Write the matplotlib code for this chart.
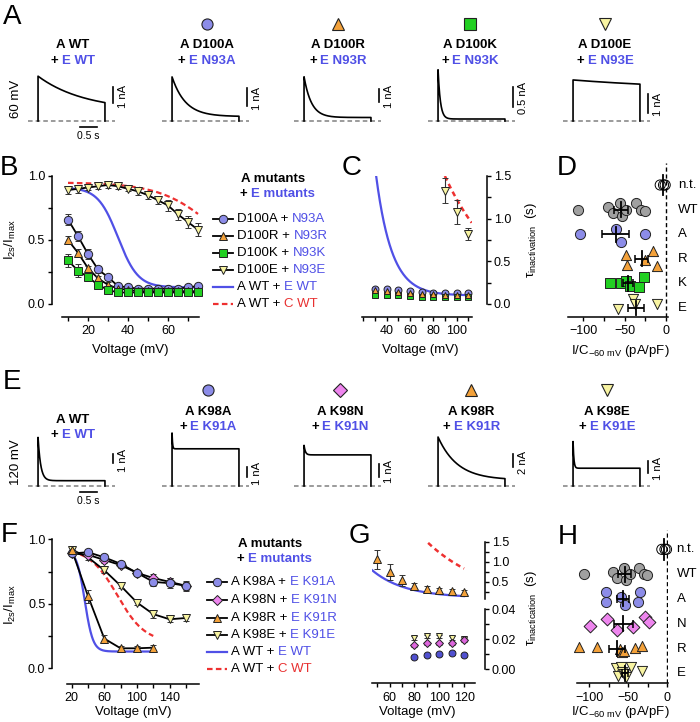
import numpy as np
import matplotlib
matplotlib.use('Agg')
import matplotlib.pyplot as plt
from matplotlib.offsetbox import TextArea, HPacker, AnnotationBbox

plt.rcParams['font.family'] = ['Liberation Sans', 'DejaVu Sans']
plt.rcParams['mathtext.fontset'] = 'custom'
plt.rcParams['mathtext.rm'] = 'Liberation Sans'
plt.rcParams['mathtext.it'] = 'Liberation Sans:italic'
plt.rcParams['font.size'] = 9

## ---------------- data ----------------
PULSE = 2.0  # s

# Panel A traces (60 mV)
a_names = ['A WT', 'A D100A', 'A D100R', 'A D100K', 'A D100E']
a_partners = ['E WT', 'E N93A', 'E N93R', 'E N93K', 'E N93E']
a_peak = [2.8, 2.45, 3.4, 1.28, 2.16]      # nA
a_steady = [0.63, 0.25, 0.27, 0.05, 1.6]   # nA
a_tau = [1.4, 0.4, 0.22, 0.07, 4.0]        # s
a_scale = [1, 1, 1, 0.5, 1]                # nA scale bar
a_scale_lbl = ['1 nA', '1 nA', '1 nA', '0.5 nA', '1 nA']

# Panel E traces (120 mV)
e_names = ['A WT', 'A K98A', 'A K98N', 'A K98R', 'A K98E']
e_partners = ['E WT', 'E K91A', 'E K91N', 'E K91R', 'E K91E']
e_peak = [5.4, 5.7, 3.2, 7.9, 3.5]
e_steady = [0.59, 4.0, 2.45, 0.97, 1.4]
e_tau = [0.08, 0.015, 0.04, 0.58, 0.025]
e_scale = [1, 1, 1, 2, 1]
e_scale_lbl = ['1 nA', '1 nA', '1 nA', '2 nA', '1 nA']

# Panel B  I2s/Imax
b_volt = [10, 15, 20, 25, 30, 35, 40, 45, 50, 55, 60, 65, 70, 75]
b_d100a = [0.66, 0.53, 0.39, 0.27, 0.21, 0.14, 0.13, 0.12, 0.12, 0.12, 0.12, 0.12, 0.13, 0.14]
b_d100a_err = [0.04, 0.04, 0.04, 0.03, 0.02, 0.02, 0.01, 0.01, 0.01, 0.01, 0.01, 0.01, 0.01, 0.01]
b_d100r = [0.50, 0.40, 0.28, 0.20, 0.15, 0.12, 0.11, 0.10, 0.10, 0.10, 0.10, 0.10, 0.10, 0.10]
b_d100r_err = [0.03, 0.03, 0.02, 0.02, 0.02, 0.01, 0.01, 0.01, 0.01, 0.01, 0.01, 0.01, 0.01, 0.01]
b_d100k = [0.34, 0.26, 0.21, 0.15, 0.11, 0.09, 0.09, 0.09, 0.09, 0.09, 0.09, 0.09, 0.09, 0.09]
b_d100k_err = [0.05, 0.05, 0.03, 0.02, 0.02, 0.01, 0.01, 0.01, 0.01, 0.01, 0.01, 0.01, 0.01, 0.01]
b_d100e = [0.89, 0.90, 0.91, 0.92, 0.93, 0.92, 0.90, 0.88, 0.85, 0.81, 0.77, 0.70, 0.64, 0.58]
b_d100e_err = [0.03, 0.03, 0.02, 0.02, 0.02, 0.02, 0.02, 0.03, 0.03, 0.03, 0.04, 0.04, 0.05, 0.05]
# Boltzmann fits: top, bottom, V1/2, slope ; fitted range
b_ewt_fit = (0.91, 0.13, 35.0, 5.0)
b_cwt_fit = (0.95, 0.20, 85.0, 14.0)
b_fit_range = (10, 75)

# Panel C  tau inactivation
c_volt = [30, 40, 50, 60, 70, 80, 90, 100, 110]
c_d100a = [0.18, 0.17, 0.16, 0.15, 0.14, 0.13, 0.13, 0.13, 0.13]
c_d100r = [0.16, 0.15, 0.14, 0.13, 0.12, 0.12, 0.11, 0.11, 0.11]
c_d100k = [0.11, 0.10, 0.10, 0.09, 0.08, 0.08, 0.08, 0.08, 0.08]
c_small_err = [0.02, 0.02, 0.02, 0.02, 0.02, 0.02, 0.02, 0.02, 0.02]
c_d100e_volt = [90, 100, 110]
c_d100e = [1.33, 1.08, 0.82]
c_d100e_err = [0.15, 0.14, 0.07]
# tau = offset + amp * exp(-(V - V0)/k)
c_ewt_fit = (0.1, 1.4, 31.0, 13.5)
c_ewt_range = (31, 113)
cwt_tau_fit = (0.0, 1.5, 90.0, 50.6)
c_cwt_range = (90, 113)

# Panel D  I/C at -60 mV (pA/pF)
row_names_d = ['n.t.', 'WT', 'A', 'R', 'K', 'E']
d_nt = [-7, -3, -1]
d_wt = [-107, -70, -64, -56, -53, -48, -36, -30, -26]
d_a = [-104, -60, -54, -25]
d_r = [-48, -47, -25, -16, -11]
d_k = [-68, -54, -48, -44, -33, -27]
d_e = [-58, -40, -37, -11]

# Panel F
f_volt = [20, 40, 60, 80, 100, 120, 140, 160]
f_k98a = [0.89, 0.90, 0.86, 0.81, 0.74, 0.67, 0.66, 0.64]
f_k98a_err = [0.02, 0.02, 0.02, 0.02, 0.02, 0.03, 0.04, 0.04]
f_k98n = [0.89, 0.88, 0.84, 0.80, 0.74, 0.70, 0.67, 0.64]
f_k98n_err = [0.02, 0.02, 0.02, 0.02, 0.02, 0.03, 0.03, 0.03]
f_k98r_volt = [20, 40, 60, 80, 100, 120]
f_k98r = [0.92, 0.56, 0.23, 0.155, 0.155, 0.16]
f_k98r_err = [0.02, 0.05, 0.03, 0.02, 0.02, 0.02]
f_k98e = [0.92, 0.86, 0.76, 0.64, 0.51, 0.42, 0.38, 0.39]
f_k98e_err = [0.02, 0.02, 0.02, 0.02, 0.02, 0.03, 0.02, 0.02]
f_ewt_fit = (0.92, 0.13, 36.0, 5.0)
f_cwt_fit = (0.93, 0.20, 76.0, 17.0)
f_fit_range = (20, 120)

# Panel G
g_volt = [50, 60, 70, 80, 90, 100, 110, 120]
g_k98r = [1.06, 0.75, 0.54, 0.39, 0.33, 0.29, 0.27, 0.235]
g_k98r_err = [0.23, 0.20, 0.14, 0.08, 0.06, 0.05, 0.05, 0.05]
g_fast_volt = [80, 90, 100, 110, 120]
g_k98a = [0.008, 0.0095, 0.010, 0.011, 0.0095]
g_k98n = [0.016, 0.0173, 0.0173, 0.0173, 0.0195]
g_k98e = [0.021, 0.022, 0.022, 0.021, 0.0205]
g_fast_err = [0.0012, 0.0012, 0.0012, 0.0012, 0.0012]
g_ewt_fit = (0.1, 0.71, 45.0, 26.6)
g_ewt_range = (45, 120)
g_cwt_range = (91, 120)

# Panel H
row_names_h = ['n.t.', 'WT', 'A', 'N', 'R', 'E']
h_a = [-78, -78, -59, -54, -35, -38]
h_n = [-99, -77, -65, -44, -29, -24]
h_r = [-113, -90, -61, -58, -56, -41, -33]
h_e = [-66, -63, -60, -58, -56, -53, -46, -33]

## ---------------- style ----------------
W, H = 700, 722
TXT_BLUE = '#5050e6'
TXT_RED = '#e83030'
LINE_BLUE = '#5050e6'
LINE_RED = '#ee3030'
C_CIRC = '#8c8ce8'
C_TRI = '#f3a13a'
C_SQ = '#22d022'
C_INV = '#f8f4a2'
C_DIA = '#ee85ee'
C_GRAY = '#a0a0a0'
EDGE = '#222222'

fig = plt.figure(figsize=(W / 100, H / 100), dpi=100)
ov = fig.add_axes([0, 0, 1, 1], zorder=10)
ov.set_xlim(0, W)
ov.set_ylim(H, 0)
ov.axis('off')


def px_rect(x0, y0, x1, y1):
    return [x0 / W, 1 - y1 / H, (x1 - x0) / W, (y1 - y0) / H]


def two_tone(x, y, parts, ha=0.5, size=9.5, weight='bold'):
    boxes = [TextArea(s, textprops=dict(color=c, fontsize=size, fontweight=weight)) for s, c in parts]
    pack = HPacker(children=boxes, align='baseline', pad=0, sep=2.7)
    ab = AnnotationBbox(pack, (x, y), xycoords='data', frameon=False, box_alignment=(ha, 0.5), pad=0)
    ov.add_artist(ab)


def boltzmann(v, top, bottom, vh, k):
    return bottom + (top - bottom) / (1 + np.exp((v - vh) / k))


def tau_exp(v, off, amp, v0, k):
    return off + amp * np.exp(-(v - v0) / k)


def style_axes(ax, side='left', out_y=7, out_x=9):
    for s in ['top', 'right', 'left']:
        ax.spines[s].set_visible(False)
    ax.spines[side].set_visible(True)
    ax.spines[side].set_position(('outward', out_y))
    ax.spines['bottom'].set_position(('outward', out_x))
    for s in ax.spines.values():
        s.set_linewidth(1.1)
    if side == 'right':
        ax.yaxis.tick_right()
    ax.tick_params(which='both', direction='out', length=3, width=1.0, labelsize=9, pad=2)
    ax.tick_params(axis='x', pad=3)
    ax.patch.set_visible(False)


def series(ax, x, y, err, marker, face, ms=6, line=True):
    if line:
        ax.plot(x, y, color='k', lw=1.3, zorder=2, clip_on=False)
    ax.errorbar(x, y, yerr=err, fmt=marker, ms=ms, mfc=face, mec=EDGE, mew=0.7,
                ecolor='#333333', elinewidth=0.8, capsize=2.3, capthick=0.8, zorder=3, clip_on=False)


## ---------------- traces (A, E) ----------------
def draw_trace(x0, base, pxnA, peak, steady, tau, scale, lbl, bar_px, time_bar):
    ax = fig.add_axes(px_rect(x0 - 10, base - 60, x0 + 77, base))
    ax.set_xlim(-0.3, 2.3)
    ax.set_ylim(0, 60 / pxnA)
    ax.axis('off')
    t = np.linspace(0, PULSE, 500)
    cur = steady + (peak - steady) * np.exp(-t / tau)
    ax.plot(np.r_[0, t, PULSE], np.r_[0, cur, 0], color='k', lw=1.2, clip_on=False)
    ax.plot([-0.3, 2.3], [0, 0], color='#808080', lw=1.1, dashes=(3, 2), clip_on=False, zorder=0)
    bb = bar_px / pxnA
    ax.plot([2.25, 2.25], [bb, bb + scale], color='k', lw=1.2, clip_on=False)
    ax.text(2.53, bb + scale / 2 - 1.5 / pxnA, lbl, rotation=90, ha='center', va='center', fontsize=8)
    if time_bar:
        ax.plot([1.25, 1.75], [-6 / pxnA, -6 / pxnA], color='k', lw=1.2, clip_on=False)
        ax.text(1.5, -15 / pxnA, '0.5 s', ha='center', va='center', fontsize=7.5)


a_x0 = [38, 172, 304, 438, 573]
a_cx = [73, 207, 338, 470, 605]
a_pxnA = [16, 18, 13, 40, 19]
a_barpx = [18, 15, 19, 14, 8]
a_marks = [None, ('o', C_CIRC), ('^', C_TRI), ('s', C_SQ), ('v', C_INV)]
for i in range(5):
    draw_trace(a_x0[i], 121, a_pxnA[i], a_peak[i], a_steady[i], a_tau[i], a_scale[i],
               a_scale_lbl[i], a_barpx[i], i == 0)
    ov.text(a_cx[i], 45, a_names[i], ha='center', va='center', fontsize=9.5, fontweight='bold')
    two_tone(a_cx[i], 61, [('+', 'k'), (a_partners[i], TXT_BLUE)])
    if a_marks[i]:
        ov.plot(a_cx[i], 24, a_marks[i][0], ms=8, mfc=a_marks[i][1], mec=EDGE, mew=0.8)
ov.text(16, 99, '60 mV', rotation=90, ha='center', va='center', fontsize=9.5)

e_x0 = [38, 172, 304, 438, 573]
e_cx = [73, 208, 340, 471, 607]
e_pxnA = [9, 9.3, 12.7, 6.2, 12.7]
e_barpx = [23, 9.3, 9.3, 19.3, 12.7]
e_marks = [None, ('o', C_CIRC), ('D', C_DIA), ('^', C_TRI), ('v', C_INV)]
for i in range(5):
    draw_trace(e_x0[i], 486, e_pxnA[i], e_peak[i], e_steady[i], e_tau[i], e_scale[i],
               e_scale_lbl[i], e_barpx[i], i == 0)
    ty = 420 if i == 0 else 412
    ov.text(e_cx[i], ty, e_names[i], ha='center', va='center', fontsize=9.5, fontweight='bold')
    two_tone(e_cx[i], ty + 15, [('+', 'k'), (e_partners[i], TXT_BLUE)])
    if e_marks[i]:
        ms = 7 if e_marks[i][0] == 'D' else 8
        ov.plot(e_cx[i], 390, e_marks[i][0], ms=ms, mfc=e_marks[i][1], mec=EDGE, mew=0.8)
ov.text(16, 462, '120 mV', rotation=90, ha='center', va='center', fontsize=9.5)

## ---------------- panel B ----------------
axB = fig.add_axes(px_rect(62, 176, 199, 304))
style_axes(axB, 'left', out_y=7.2, out_x=9.4)
axB.set_xlim(7, 75.5)
axB.set_ylim(0, 1)
vv = np.linspace(*b_fit_range, 300)
axB.plot(vv, boltzmann(vv, *b_cwt_fit), color=LINE_RED, lw=1.6, dashes=(2.5, 1.5), zorder=1)
axB.plot(vv, boltzmann(vv, *b_ewt_fit), color=LINE_BLUE, lw=1.6, zorder=1)
series(axB, b_volt, b_d100e, b_d100e_err, 'v', C_INV)
series(axB, b_volt, b_d100a, b_d100a_err, 'o', C_CIRC)
series(axB, b_volt, b_d100r, b_d100r_err, '^', C_TRI)
series(axB, b_volt, b_d100k, b_d100k_err, 's', C_SQ, ms=5.5)
axB.set_xticks([20, 40, 60])
axB.set_xticks([10, 30, 50, 70], minor=True)
axB.set_yticks([0, 0.5, 1.0])
axB.set_yticks([0.25, 0.75], minor=True)
axB.set_yticklabels(['0.0', '0.5', '1.0'])
ov.text(130, 350, 'Voltage (mV)', ha='center', va='center', fontsize=9.5)
ov.text(10, 240, r'I$_{\mathregular{2s}}$/I$_{\mathregular{max}}$', rotation=90,
        ha='center', va='center', fontsize=9.5)


def legend(xl, xm, xt, ys, title_xy, entries):
    ov.text(title_xy[0], title_xy[1], 'A mutants', ha='center', va='center', fontsize=9.5, fontweight='bold')
    two_tone(title_xy[0] + 4, title_xy[1] + 15, [('+', 'k'), ('E mutants', TXT_BLUE)])
    for y, (kind, face, left, right, rcol) in zip(ys, entries):
        if kind == 'blue':
            ov.plot([xl, xl + 20], [y, y], color=LINE_BLUE, lw=1.6)
        elif kind == 'red':
            ov.plot([xl, xl + 20], [y, y], color=LINE_RED, lw=1.6, dashes=(2.5, 1.5))
        else:
            ov.plot([xl, xl + 20], [y, y], color='k', lw=1.3)
            ms = 5.5 if kind in ('s', 'D') else 6
            ov.plot(xm, y, kind, ms=ms, mfc=face, mec=EDGE, mew=0.7)
        two_tone(xt, y, [(left, 'k'), (right, rcol)], ha=0, weight='normal')


legend(213, 223, 237, [219, 236, 253, 270, 287, 304], (273, 179),
       [('o', C_CIRC, 'D100A +', 'N93A', TXT_BLUE),
        ('^', C_TRI, 'D100R +', 'N93R', TXT_BLUE),
        ('s', C_SQ, 'D100K +', 'N93K', TXT_BLUE),
        ('v', C_INV, 'D100E +', 'N93E', TXT_BLUE),
        ('blue', None, 'A WT +', 'E WT', TXT_BLUE),
        ('red', None, 'A WT +', 'C WT', TXT_RED)])

## ---------------- panel C ----------------
axC = fig.add_axes(px_rect(361.7, 176, 471.7, 304))
style_axes(axC, 'right', out_y=10.8, out_x=9.1)
axC.set_xlim(18.6, 113)
axC.set_ylim(0, 1.5)
vv = np.linspace(*c_ewt_range, 300)
axC.plot(vv, tau_exp(vv, *c_ewt_fit), color=LINE_BLUE, lw=1.6, zorder=1)
vv = np.linspace(*c_cwt_range, 100)
axC.plot(vv, tau_exp(vv, *cwt_tau_fit), color=LINE_RED, lw=1.8, dashes=(2, 1.5), zorder=1)
series(axC, c_volt, c_d100a, c_small_err, 'o', C_CIRC, ms=5, line=False)
series(axC, c_volt, c_d100k, c_small_err, 's', C_SQ, ms=4.5, line=False)
series(axC, c_volt, c_d100r, c_small_err, '^', C_TRI, ms=5, line=False)
series(axC, c_d100e_volt, c_d100e, c_d100e_err, 'v', C_INV, ms=5.5, line=False)
axC.set_xticks([40, 60, 80, 100])
axC.set_xticks([20, 30, 50, 70, 90, 110], minor=True)
axC.set_yticks([0, 0.5, 1.0, 1.5])
axC.set_yticks([0.25, 0.75, 1.25], minor=True)
axC.set_yticklabels(['0.0', '0.5', '1.0', '1.5'])
ov.text(420, 350, 'Voltage (mV)', ha='center', va='center', fontsize=9.5)
ov.text(531, 240, r'τ$_{\mathregular{inactivation}}$  (s)', rotation=90,
        ha='center', va='center', fontsize=9.5)


## ---------------- panels D / H ----------------
def swarm(ax, rows, names, label_x):
    ax.axvline(0, color='k', lw=1.0, dashes=(3, 2), zorder=0)
    for r, (vals, offs, marker, face, ms) in enumerate(rows):
        y = len(rows) - 1 - r
        ax.scatter(vals, np.array(offs) + y, marker=marker, s=ms ** 2, c=face,
                   edgecolors=EDGE if face != 'none' else 'k', linewidths=0.7, zorder=2, clip_on=False)
        m = np.mean(vals)
        sem = np.std(vals, ddof=1) / np.sqrt(len(vals))
        h = 0.42 if r == 0 else 0.3
        ax.plot([m, m], [y - h, y + h], color='k', lw=1.3, zorder=3)
        if r > 0:
            ax.errorbar(m, y, xerr=sem, fmt='none', ecolor='k', elinewidth=1.3, capsize=3, capthick=1.1, zorder=3)
        ax.text(label_x, y, names[r], transform=ax.get_yaxis_transform(), ha='left', va='center', fontsize=9.5)
    for s in ['top', 'right', 'left']:
        ax.spines[s].set_visible(False)
    ax.spines['bottom'].set_linewidth(1.1)
    ax.set_yticks([])
    ax.set_xticks([-100, -50, 0])
    ax.set_xticks([-75, -25], minor=True)
    ax.tick_params(which='both', direction='out', length=3, width=1.0, labelsize=9, pad=3)
    ax.patch.set_visible(False)


nt_offs = [0, 0, 0]
wt_offs = [0, 0.1, -0.15, 0.25, -0.25, 0, 0.25, 0, -0.05]
axD = fig.add_axes(px_rect(568, 163, 668, 316.7))
axD.set_xlim(-118.5, 2.4)
axD.set_ylim(-0.354, 5.894)
swarm(axD, [(d_nt, nt_offs, 'o', 'none', 7.3),
            (d_wt, wt_offs, 'o', C_GRAY, 7.3),
            (d_a, [0, 0.2, -0.3, 0], 'o', C_CIRC, 7.3),
            (d_r, [0.16, -0.24, -0.05, 0.3, -0.3], '^', C_TRI, 7.3),
            (d_k, [0, 0, 0.1, -0.1, -0.15, 0.27], 's', C_SQ, 6.8),
            (d_e, [-0.05, 0.35, 0.16, 0.16], 'v', C_INV, 7.3)],
      row_names_d, 1.1)
ov.text(620, 351, r'I/C$_{\mathregular{-60\ mV}}$ (pA/pF)', ha='center', va='center', fontsize=9.5)

axH = fig.add_axes(px_rect(576.7, 530, 668.3, 683.3))
axH.set_xlim(-116.2, 1.3)
axH.set_ylim(-0.403, 5.78)
swarm(axH, [(d_nt, nt_offs, 'o', 'none', 7.3),
            (d_wt, wt_offs, 'o', C_GRAY, 7.3),
            (h_a, [0.27, -0.11, 0.09, -0.25, 0.27, -0.11], 'o', C_CIRC, 7.3),
            (h_n, [-0.1, 0.19, -0.26, -0.15, 0.28, 0.08], 'D', C_DIA, 6.5),
            (h_r, [0.07, 0.07, 0, -0.15, -0.1, 0.03, 0.1], '^', C_TRI, 7.3),
            (h_e, [0.2, -0.1, 0.27, 0.07, -0.03, -0.14, 0.27, 0.1], 'v', C_INV, 7.3)],
      row_names_h, 1.09)
ov.text(620, 712, r'I/C$_{\mathregular{-60\ mV}}$ (pA/pF)', ha='center', va='center', fontsize=9.5)

## ---------------- panel F ----------------
axF = fig.add_axes(px_rect(66.7, 539.3, 199.3, 668.3))
style_axes(axF, 'left', out_y=10.4, out_x=11.3)
axF.set_xlim(13.9, 176.4)
axF.set_ylim(0, 1)
vv = np.linspace(*f_fit_range, 300)
axF.plot(vv, boltzmann(vv, *f_cwt_fit), color=LINE_RED, lw=1.6, dashes=(2.5, 1.5), zorder=1)
axF.plot(vv, boltzmann(vv, *f_ewt_fit), color=LINE_BLUE, lw=1.6, zorder=1)
series(axF, f_volt, f_k98e, f_k98e_err, 'v', C_INV)
series(axF, f_volt, f_k98n, f_k98n_err, 'D', C_DIA, ms=5.5)
series(axF, f_volt, f_k98a, f_k98a_err, 'o', C_CIRC)
series(axF, f_k98r_volt, f_k98r, f_k98r_err, '^', C_TRI)
axF.set_xticks([20, 60, 100, 140])
axF.set_xticks([40, 80, 120, 160], minor=True)
axF.set_yticks([0, 0.5, 1.0])
axF.set_yticks([0.25, 0.75], minor=True)
axF.set_yticklabels(['0.0', '0.5', '1.0'])
ov.text(133, 712, 'Voltage (mV)', ha='center', va='center', fontsize=9.5)
ov.text(10, 605, r'I$_{\mathregular{2s}}$/I$_{\mathregular{max}}$', rotation=90,
        ha='center', va='center', fontsize=9.5)
legend(207, 217, 231, [582, 600, 618, 635, 652, 669], (270, 544),
       [('o', C_CIRC, 'A K98A +', 'E K91A', TXT_BLUE),
        ('D', C_DIA, 'A K98N +', 'E K91N', TXT_BLUE),
        ('^', C_TRI, 'A K98R +', 'E K91R', TXT_BLUE),
        ('v', C_INV, 'A K98E +', 'E K91E', TXT_BLUE),
        ('blue', None, 'A WT +', 'E WT', TXT_BLUE),
        ('red', None, 'A WT +', 'C WT', TXT_RED)])

## ---------------- panel G ----------------
axGu = fig.add_axes(px_rect(371.7, 541.7, 475, 599))
style_axes(axGu, 'right', out_y=7.2, out_x=0)
axGu.spines['bottom'].set_visible(False)
axGu.tick_params(axis='x', which='both', bottom=False, labelbottom=False)
axGu.set_xlim(45.5, 128.8)
axGu.set_ylim(0.07, 1.5)
vv = np.linspace(*g_ewt_range, 300)
axGu.plot(vv, tau_exp(vv, *g_ewt_fit), color=LINE_BLUE, lw=1.6, zorder=1)
vv = np.linspace(*g_cwt_range, 100)
axGu.plot(vv, tau_exp(vv, *cwt_tau_fit), color=LINE_RED, lw=1.8, dashes=(2, 1.5), zorder=1)
series(axGu, g_volt, g_k98r, g_k98r_err, '^', C_TRI, ms=5.5, line=False)
axGu.set_yticks([0.5, 1.0, 1.5])
axGu.set_yticks([0.25, 0.75, 1.25], minor=True)

axGl = fig.add_axes(px_rect(371.7, 609.3, 475, 669.3))
style_axes(axGl, 'right', out_y=7.2, out_x=10.1)
axGl.set_xlim(45.5, 128.8)
axGl.set_ylim(0, 0.04)
series(axGl, g_fast_volt, g_k98e, g_fast_err, 'v', C_INV, ms=5, line=False)
series(axGl, g_fast_volt, g_k98n, g_fast_err, 'D', '#dd66dd', ms=4.5, line=False)
series(axGl, g_fast_volt, g_k98a, g_fast_err, 'o', '#5050d0', ms=5, line=False)
axGl.set_xticks([60, 80, 100, 120])
axGl.set_xticks([50, 70, 90, 110], minor=True)
axGl.set_yticks([0, 0.02, 0.04])
axGl.set_yticks([0.01, 0.03], minor=True)
axGl.set_yticklabels(['0.00', '0.02', '0.04'])
ov.text(417, 712, 'Voltage (mV)', ha='center', va='center', fontsize=9.5)
ov.text(531, 608, r'τ$_{\mathregular{inactication}}$  (s)', rotation=90,
        ha='center', va='center', fontsize=9.5)

## ---------------- panel letters ----------------
for letter, x, y in [('A', 3, 17), ('B', 0, 168), ('C', 342, 168), ('D', 557, 168),
                     ('E', 3, 382), ('F', 1, 535), ('G', 349, 536), ('H', 558, 537)]:
    ov.text(x, y, letter, ha='left', va='center', fontsize=20)

fig.savefig('out.png', dpi=100)
